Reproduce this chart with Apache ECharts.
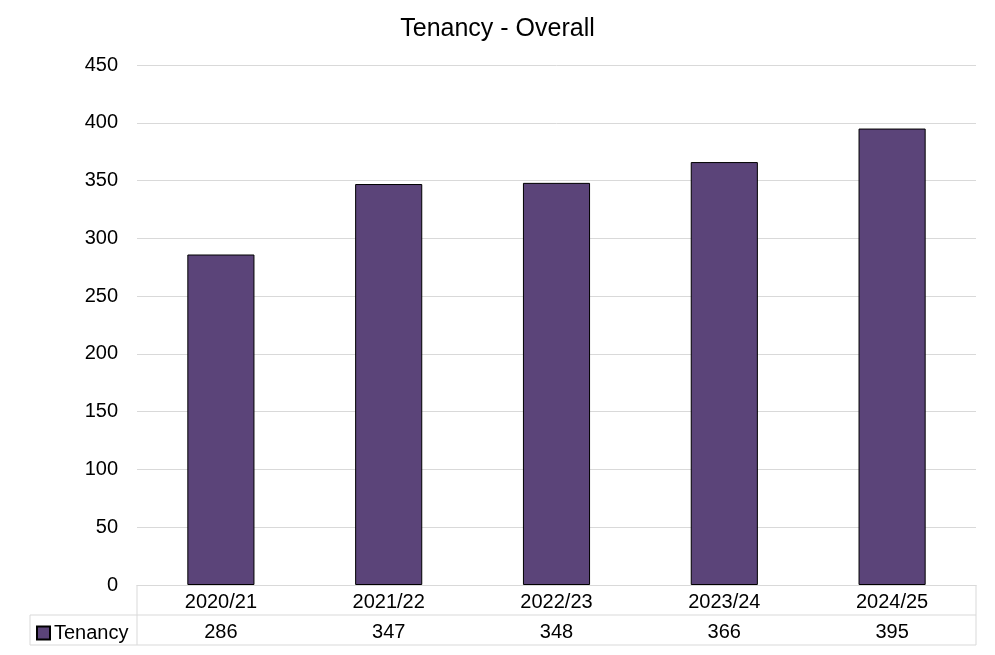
<!DOCTYPE html>
<html>
<head>
<meta charset="utf-8">
<title>Tenancy - Overall</title>
<script src="https://cdn.jsdelivr.net/npm/echarts@6/dist/echarts.min.js"></script>
<style>
 html, body { margin: 0; padding: 0; background: #fff; }
 #container { width: 995px; height: 655px; }
</style>
</head>
<body>
<div id="container"></div>
<script>
    // data
    var years = ['2020/21', '2021/22', '2022/23', '2023/24', '2024/25'];
    var tenancy = [286, 347, 348, 366, 395];
    var seriesName = 'Tenancy';

    var font = 'Liberation Sans, Arial, sans-serif';
    var lineCol = '#d9d9d9';

    // table frame (left edge, plot left, plot right, rows)
    var tL = 30, pL = 137, pR = 976, r0 = 585, r1 = 615, r2 = 645;

    var dom = document.getElementById('container');
    var myChart = echarts.init(dom, null, { renderer: 'canvas' });

    var option = {
        animation: false,
        title: {
            text: 'Tenancy - Overall',
            left: 'center',
            top: 12,
            textStyle: { fontFamily: font, fontSize: 25, fontWeight: 'normal', color: '#000' }
        },
        legend: {
            left: tL + 1,
            top: r1 + 3,
            icon: 'rect',
            itemWidth: 13,
            itemHeight: 13,
            itemGap: 4,
            textStyle: { fontFamily: font, fontSize: 20, color: '#000', padding: [0, 0, 0, -1] },
            data: [seriesName]
        },
        grid: { left: pL, right: 995 - pR, top: 65, bottom: 655 - r0 },
        xAxis: [{
            type: 'category',
            data: years,
            axisLine: { lineStyle: { color: lineCol } },
            axisTick: { show: false },
            axisLabel: { fontFamily: font, fontSize: 20, color: '#000', margin: 7 }
        }, {
            type: 'category',
            data: tenancy,
            position: 'bottom',
            offset: 30,
            axisLine: { show: false },
            axisTick: { show: false },
            axisLabel: { fontFamily: font, fontSize: 20, color: '#000', margin: 7 }
        }],
        yAxis: {
            type: 'value',
            min: 0,
            max: 450,
            interval: 50,
            axisLine: { show: false },
            axisTick: { show: false },
            axisLabel: { fontFamily: font, fontSize: 20, color: '#000', margin: 19 },
            splitLine: { lineStyle: { color: lineCol } }
        },
        series: [{
            name: seriesName,
            type: 'bar',
            data: tenancy,
            barWidth: '40%',
            itemStyle: { color: '#5b4479', borderColor: '#000', borderWidth: 1 }
        }],
        graphic: [
            { type: 'line', shape: { x1: tL, y1: r1, x2: pR, y2: r1 }, style: { stroke: lineCol, lineWidth: 1 } },
            { type: 'line', shape: { x1: tL, y1: r2, x2: pR, y2: r2 }, style: { stroke: lineCol, lineWidth: 1 } },
            { type: 'line', shape: { x1: tL, y1: r1, x2: tL, y2: r2 }, style: { stroke: lineCol, lineWidth: 1 } },
            { type: 'line', shape: { x1: pL, y1: r0, x2: pL, y2: r2 }, style: { stroke: lineCol, lineWidth: 1 } },
            { type: 'line', shape: { x1: pR, y1: r0, x2: pR, y2: r2 }, style: { stroke: lineCol, lineWidth: 1 } }
        ]
    };

    if (option && typeof option === 'object') {
        myChart.setOption(option);
    }
    window.addEventListener('resize', myChart.resize);
</script>
</body>
</html>
